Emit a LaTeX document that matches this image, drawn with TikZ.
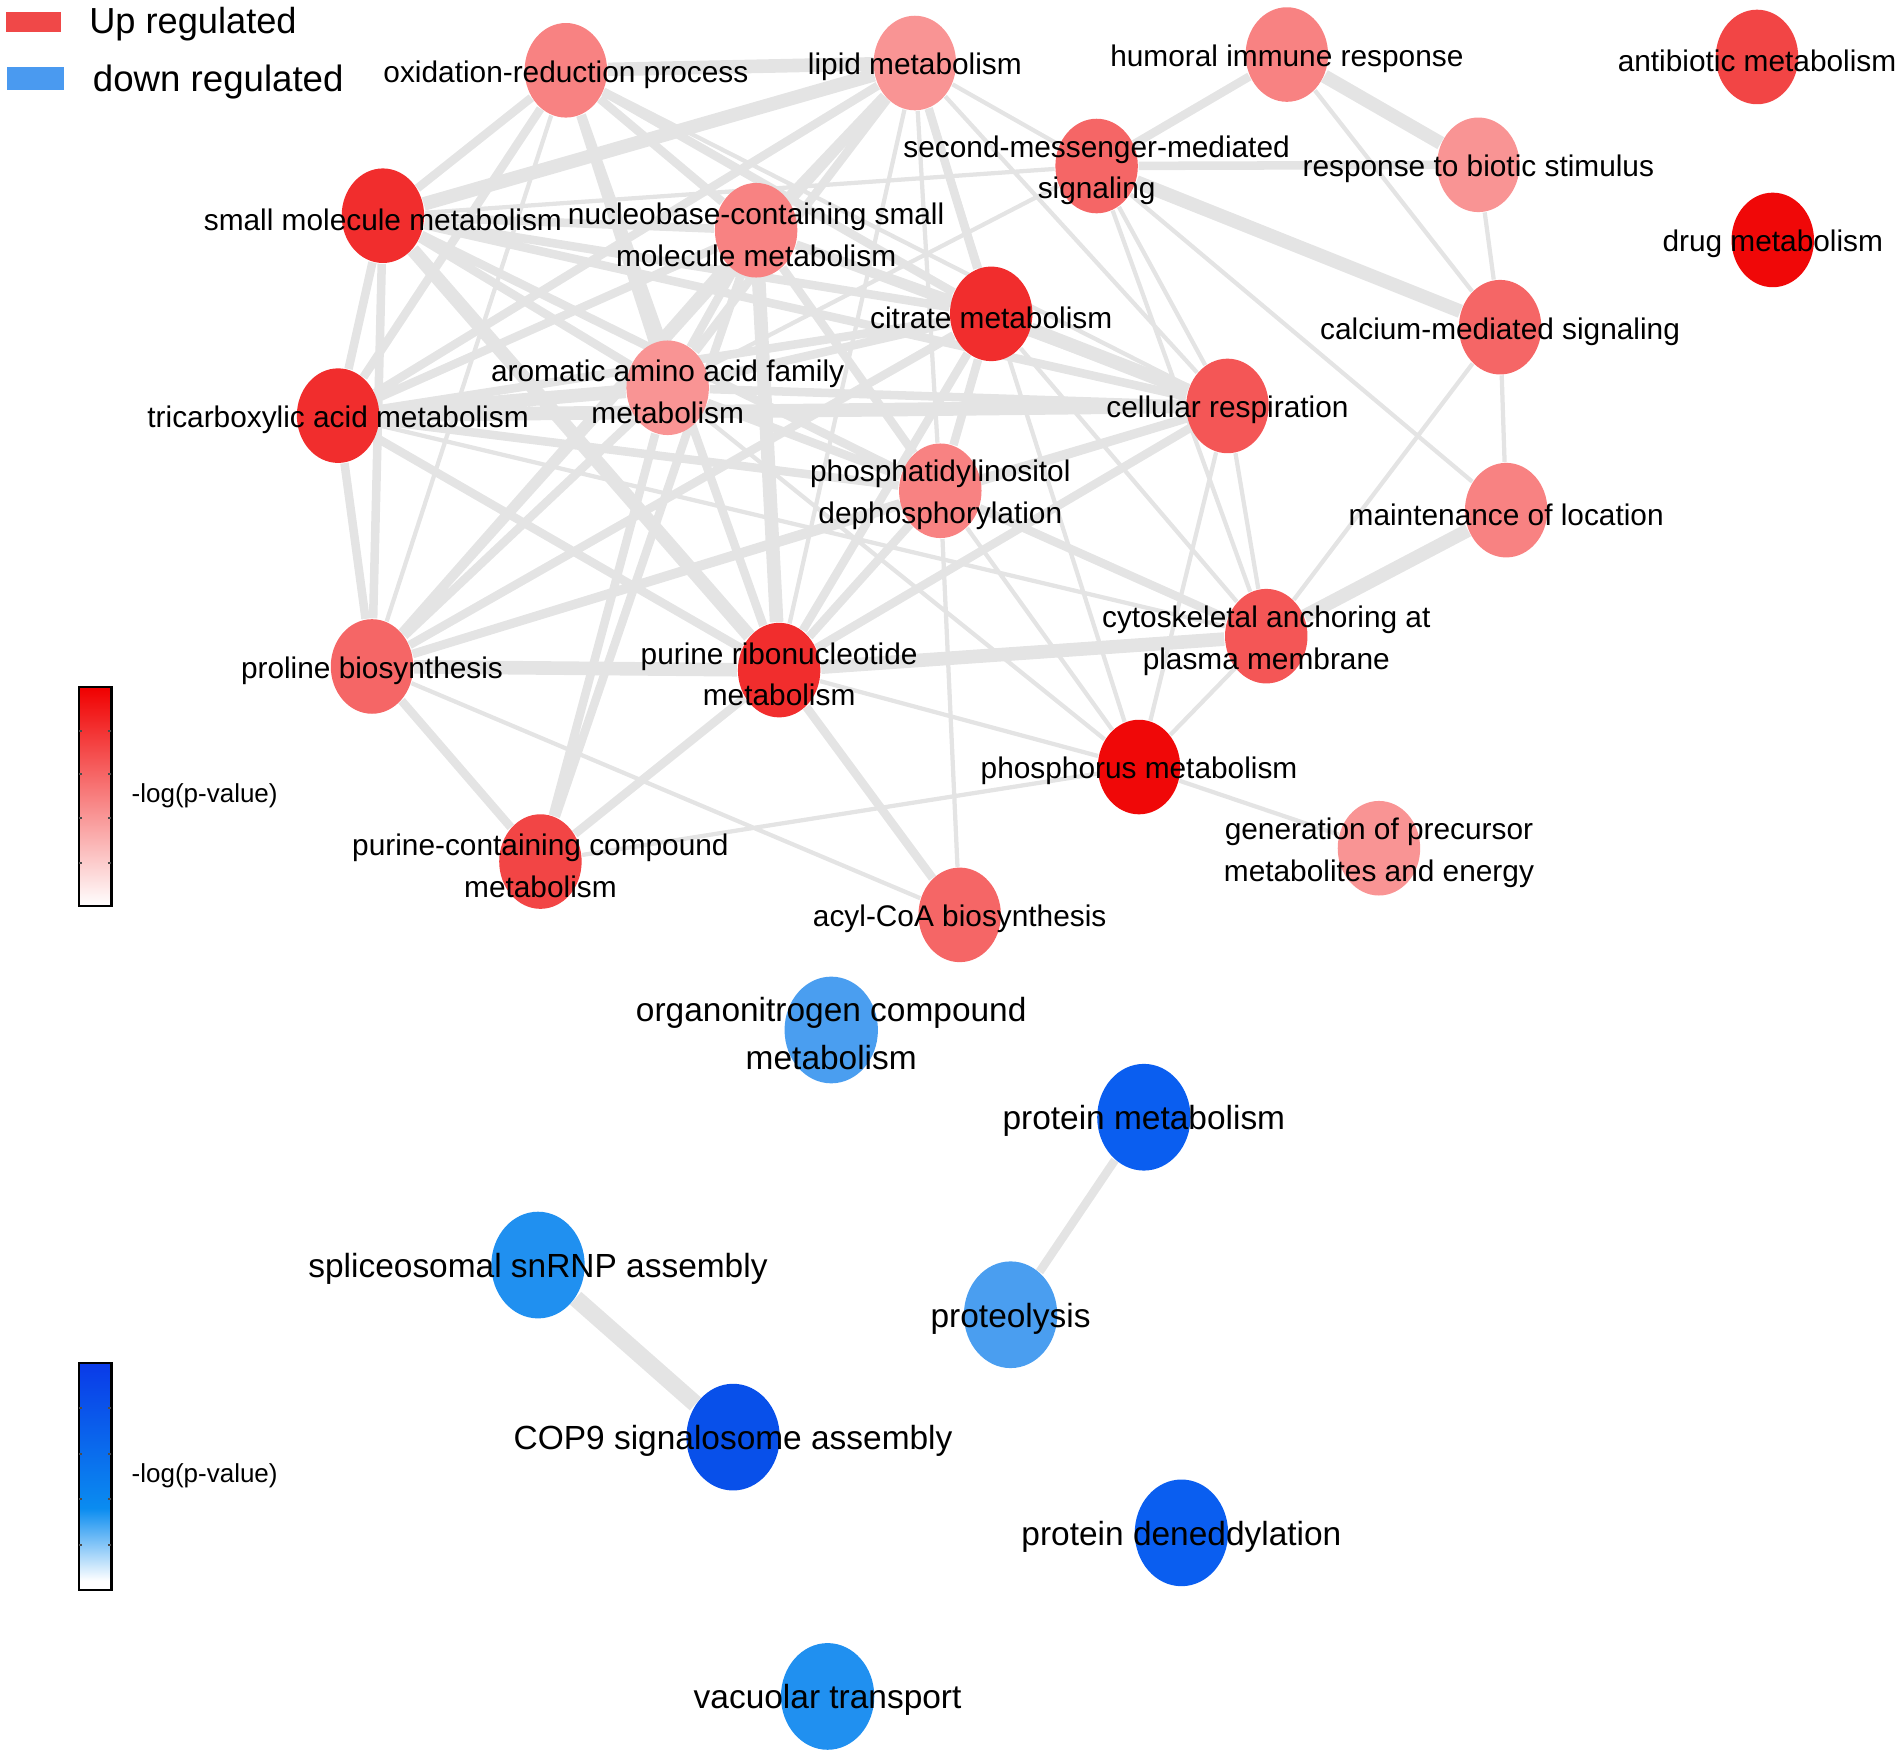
\documentclass[tikz,border=0pt]{standalone}
\usepackage{fontspec}
\setmainfont{Liberation Sans}
\usepackage{tikz}
\usetikzlibrary{shapes.geometric, backgrounds}

% node colours
\definecolor{upF}{HTML}{F99494}
\definecolor{upE}{HTML}{F88282}
\definecolor{upD}{HTML}{F56666}
\definecolor{upC}{HTML}{F45656}
\definecolor{upB}{HTML}{F24545}
\definecolor{upA}{HTML}{F12D2D}
\definecolor{upZ}{HTML}{F00808}
\definecolor{dnC}{HTML}{4A9EF0}
\definecolor{dnB}{HTML}{2090F0}
\definecolor{dnA}{HTML}{0A5EF0}
\definecolor{dnZ}{HTML}{0850EA}
\definecolor{legred}{HTML}{F04848}
\definecolor{legblue}{HTML}{4A9AF0}
\definecolor{bartop}{HTML}{F00000}
\definecolor{bluetop}{HTML}{0A3AE8}
\definecolor{bluemid}{HTML}{0A8CF0}
\definecolor{edgegray}{HTML}{E4E4E4}

\pgfdeclareverticalshading{redbar}{100bp}{color(0bp)=(white); color(25bp)=(white); color(75bp)=(bartop); color(100bp)=(bartop)}
\pgfdeclareverticalshading{bluebar}{100bp}{color(0bp)=(white); color(27bp)=(white); color(43bp)=(bluemid); color(75bp)=(bluetop); color(100bp)=(bluetop)}

\begin{document}
\begin{tikzpicture}[x=0.01cm, y=-0.01cm,
		term/.style={ellipse, draw=none, inner sep=0pt, minimum width=0.68cm, minimum height=0.78cm},
		dnterm/.style={term, minimum width=0.77cm, minimum height=0.88cm},
		uplab/.style={font=\fontsize{7}{9.8}\selectfont, align=center, inner sep=0pt, yshift=-0.035cm},
		dnlab/.style={font=\fontsize{7.85}{11.1}\selectfont, align=center, inner sep=0pt, yshift=-0.03cm},
		thinedge/.style={draw=edgegray, line width=1pt},
		midedge/.style={draw=edgegray, line width=2pt},
		thickedge/.style={draw=edgegray, line width=3.2pt}]
		
		\useasboundingbox (0,0) rectangle (1568,1447.5);
		
		% Legend
		\fill[legred] (5,10) rectangle (50,26);
		\fill[legblue] (6,55) rectangle (53,74);
		\node[anchor=west, inner sep=0pt, font=\fontsize{8.5}{10}\selectfont] (uplegend) at (73,20) {Up regulated};
		\node[anchor=west, inner sep=0pt, font=\fontsize{8.6}{10}\selectfont] (dnlegend) at (76,68) {down regulated};
		
		% Colour bars
		\shadedraw[shading=redbar, draw=black, line width=0.5pt] (65,567) rectangle (92,748);
		\draw[black!70, line width=0.4pt] (65,603) -- (68,603) (89,603) -- (92,603) (65,639) -- (68,639) (89,639) -- (92,639)
			(65,675) -- (68,675) (89,675) -- (92,675) (65,712) -- (68,712) (89,712) -- (92,712);
		\node[anchor=west, inner sep=0pt, font=\fontsize{6.1}{7}\selectfont] (upscale) at (108,657) {-log(p-value)};
		
		\shadedraw[shading=bluebar, draw=black, line width=0.5pt] (65,1125) rectangle (92,1312);
		\draw[black!70, line width=0.4pt] (65,1162) -- (68,1162) (89,1162) -- (92,1162) (65,1200) -- (68,1200) (89,1200) -- (92,1200)
			(65,1237) -- (68,1237) (89,1237) -- (92,1237) (65,1275) -- (68,1275) (89,1275) -- (92,1275);
		\node[anchor=west, inner sep=0pt, font=\fontsize{6.1}{7}\selectfont] (dnscale) at (108,1218) {-log(p-value)};
		
		% Up regulated terms
		\node[term, fill=upE, label={[uplab]center:oxidation-reduction process}] (oxR) at (467,58) {};
		\node[term, fill=upF, label={[uplab]center:lipid metabolism}] (lipid) at (755,52) {};
		\node[term, fill=upE, label={[uplab]center:humoral immune response}] (humoral) at (1062,45) {};
		\node[term, fill=upB, label={[uplab]center:antibiotic metabolism}] (antibiotic) at (1450,47) {};
		\node[term, fill=upD, label={[uplab]center:{second-messenger-mediated\\signaling}}] (second) at (905,137) {};
		\node[term, fill=upF, label={[uplab]center:response to biotic stimulus}] (response) at (1220,136) {};
		\node[term, fill=upZ, label={[uplab]center:drug metabolism}] (drug) at (1463,198) {};
		\node[term, fill=upA, label={[uplab]center:small molecule metabolism}] (smallmol) at (316,178) {};
		\node[term, fill=upE, label={[uplab]center:{nucleobase-containing small\\molecule metabolism}}] (nucleobase) at (624,190) {};
		\node[term, fill=upA, label={[uplab]center:citrate metabolism}] (citrate) at (818,259) {};
		\node[term, fill=upD, label={[uplab]center:calcium-mediated signaling}] (calcium) at (1238,270) {};
		\node[term, fill=upF, label={[uplab]center:{aromatic amino acid family\\metabolism}}] (aromatic) at (551,320) {};
		\node[term, fill=upA, label={[uplab]center:tricarboxylic acid metabolism}] (tca) at (279,343) {};
		\node[term, fill=upC, label={[uplab]center:cellular respiration}] (cellular) at (1013,335) {};
		\node[term, fill=upE, label={[uplab]center:{phosphatidylinositol\\dephosphorylation}}] (phosphatidyl) at (776,405) {};
		\node[term, fill=upE, label={[uplab]center:maintenance of location}] (maintenance) at (1243,421) {};
		\node[term, fill=upC, label={[uplab]center:{cytoskeletal anchoring at\\plasma membrane}}] (cytoskeletal) at (1045,525) {};
		\node[term, fill=upD, label={[uplab]center:proline biosynthesis}] (proline) at (307,550) {};
		\node[term, fill=upA, label={[uplab]center:{purine ribonucleotide\\metabolism}}] (purineribo) at (643,553) {};
		\node[term, fill=upZ, label={[uplab]center:phosphorus metabolism}] (phosphorus) at (940,633) {};
		\node[term, fill=upF, label={[uplab]center:{generation of precursor\\metabolites and energy}}] (generation) at (1138,700) {};
		\node[term, fill=upB, label={[uplab]center:{purine-containing compound\\metabolism}}] (purinecont) at (446,711) {};
		\node[term, fill=upD, label={[uplab]center:acyl-CoA biosynthesis}] (acyl) at (792,755) {};
		
		% Down regulated terms
		\node[dnterm, fill=dnC, label={[dnlab]center:{organonitrogen compound\\metabolism}}] (organo) at (686,850) {};
		\node[dnterm, fill=dnA, label={[dnlab]center:protein metabolism}] (protmet) at (944,922) {};
		\node[dnterm, fill=dnB, label={[dnlab]center:spliceosomal snRNP assembly}] (splice) at (444,1044) {};
		\node[dnterm, fill=dnC, label={[dnlab]center:proteolysis}] (proteo) at (834,1085) {};
		\node[dnterm, fill=dnZ, label={[dnlab]center:COP9 signalosome assembly}] (cop9) at (605,1186) {};
		\node[dnterm, fill=dnA, label={[dnlab]center:protein deneddylation}] (dened) at (975,1265) {};
		\node[dnterm, fill=dnB, label={[dnlab]center:vacuolar transport}] (vacuolar) at (683,1400) {};
		
		% Edges
		\begin{pgfonlayer}{background}
		\draw[thickedge] (oxR) -- (lipid) (lipid) -- (smallmol) (tca) -- (aromatic) (tca) -- (cellular)
			(citrate) -- (cellular) (second) -- (calcium) (humoral) -- (response) (proline) -- (purineribo)
			(purineribo) -- (cytoskeletal) (maintenance) -- (cytoskeletal) (nucleobase) -- (purineribo)
			(smallmol) -- (purineribo);
		\draw[midedge] (oxR) -- (smallmol) (oxR) -- (nucleobase) (oxR) -- (aromatic) (oxR) -- (citrate)
			(oxR) -- (purineribo) (oxR) -- (tca)
			(lipid) -- (nucleobase) (lipid) -- (aromatic) (lipid) -- (citrate) (lipid) -- (tca) (lipid) -- (proline)
			(smallmol) -- (nucleobase) (smallmol) -- (aromatic) (smallmol) -- (citrate) (smallmol) -- (proline)
			(smallmol) -- (phosphatidyl) (smallmol) -- (cellular) (smallmol) -- (tca)
			(nucleobase) -- (aromatic) (nucleobase) -- (citrate) (nucleobase) -- (tca) (nucleobase) -- (proline)
			(nucleobase) -- (cellular) (nucleobase) -- (phosphatidyl) (nucleobase) -- (purinecont)
			(citrate) -- (aromatic) (citrate) -- (proline) (citrate) -- (purineribo) (citrate) -- (phosphatidyl)
			(citrate) -- (tca) (tca) -- (purineribo) (tca) -- (phosphatidyl) (tca) -- (proline)
			(aromatic) -- (proline) (aromatic) -- (phosphatidyl) (aromatic) -- (purinecont) (aromatic) -- (cellular)
			(phosphatidyl) -- (purineribo) (phosphatidyl) -- (proline) (phosphatidyl) -- (cellular)
			(phosphatidyl) -- (cytoskeletal) (cellular) -- (purineribo) (cellular) -- (proline)
			(second) -- (response) (humoral) -- (second) (proline) -- (purinecont) (purineribo) -- (acyl)
			(purinecont) -- (purineribo) (protmet) -- (proteo);
		\draw[thinedge] (lipid) -- (second) (lipid) -- (cellular) (lipid) -- (phosphatidyl) (lipid) -- (purineribo)
			(lipid) -- (phosphorus) (second) -- (smallmol) (second) -- (cellular) (second) -- (maintenance)
			(second) -- (cytoskeletal) (second) -- (aromatic) (humoral) -- (calcium) (response) -- (calcium)
			(calcium) -- (maintenance) (calcium) -- (cytoskeletal) (cellular) -- (cytoskeletal)
			(cellular) -- (phosphorus) (citrate) -- (cytoskeletal) (tca) -- (cytoskeletal)
			(phosphorus) -- (purineribo) (phosphorus) -- (phosphatidyl) (phosphorus) -- (cytoskeletal)
			(phosphorus) -- (generation) (phosphorus) -- (purinecont) (phosphorus) -- (aromatic)
			(acyl) -- (phosphatidyl) (acyl) -- (proline) (oxR) -- (proline) (oxR) -- (cellular);
		\draw[thickedge, line width=4pt] (splice) -- (cop9);
		\end{pgfonlayer}
		
\end{tikzpicture}
\end{document}
